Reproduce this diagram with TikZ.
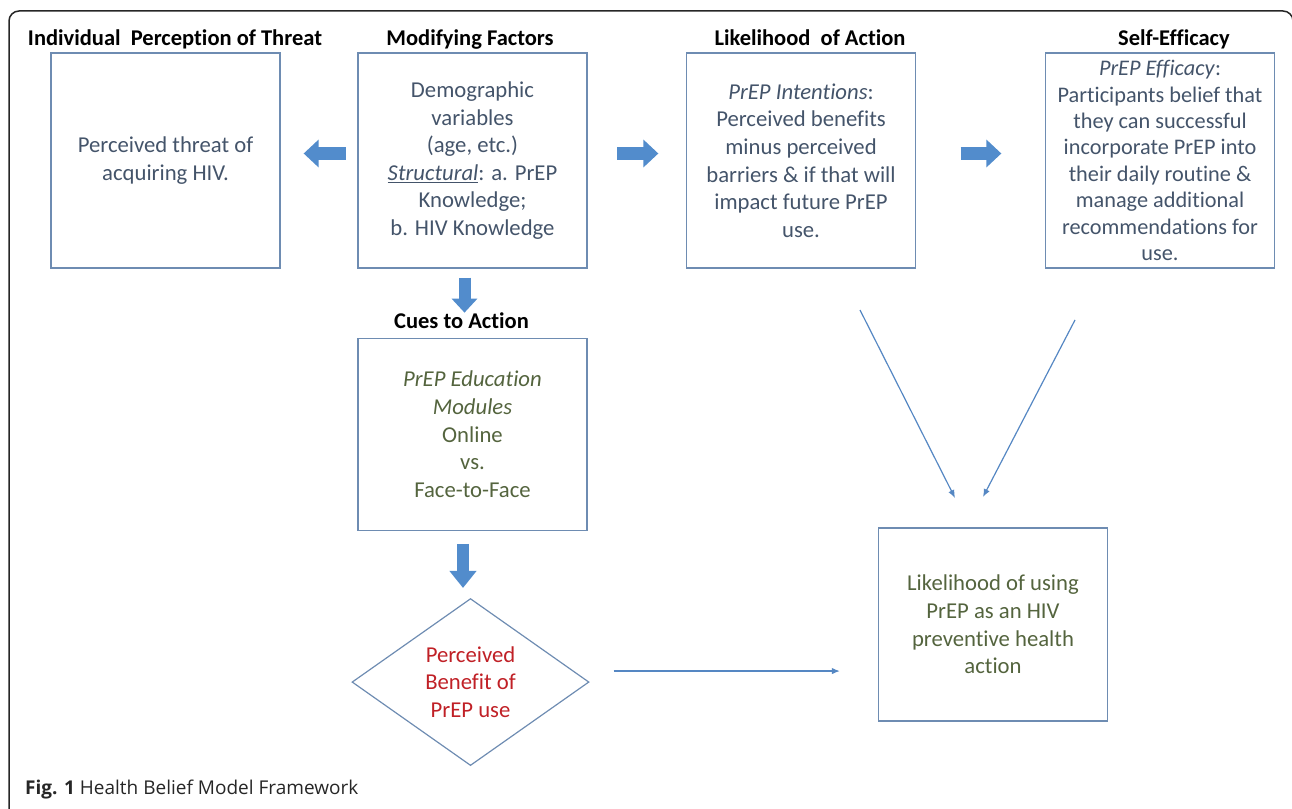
\documentclass[tikz,border=0pt]{standalone}
\usepackage{fontspec}
\setmainfont{Carlito}[Ligatures=NoCommon]
\newfontfamily\captionfont{Open Sans}
\usepackage{tikz}
\usetikzlibrary{arrows.meta,positioning,shapes.geometric}

\definecolor{boxline}{RGB}{110,140,178}
\definecolor{fatblue}{RGB}{82,140,204}
\definecolor{linkblue}{RGB}{85,135,195}
\definecolor{slatetext}{RGB}{68,84,106}
\definecolor{olivetext}{RGB}{84,100,62}
\definecolor{redtext}{RGB}{192,32,38}

\begin{document}
\begin{tikzpicture}[x=1pt, y=-1pt, >={Latex[length=8pt,width=6.5pt]}, node distance=69pt]
	\tikzstyle{every node}=[inner sep=0pt]
	\tikzstyle{box}=[draw=boxline, line width=1.3pt, minimum width=229pt, minimum height=215pt, align=center, text=slatetext, font=\fontsize{22.7}{27.6}\selectfont]
	\tikzstyle{heading}=[font=\fontsize{22.5}{26}\selectfont\bfseries]
	\tikzstyle{fat}=[draw=fatblue, line width=13pt, -{Triangle[length=15pt,width=27pt]}]
	\tikzstyle{link}=[draw=linkblue, line width=1.2pt, ->]
	\useasboundingbox (0,0) rectangle (1292,808);
	% frame
	\draw[line width=1.5pt, rounded corners=10pt, black!85] (9,830) -- (9,11) -- (1293,11) -- (1293,830);
	% boxes
	\node[box] (threat) at (165.5,160.5) {Perceived threat of\\acquiring HIV.};
	\node[box] (modify) at (472.5,160.5) {Demographic\\variables\\(age, etc.)\\\underline{\textit{Structural}}: a. PrEP\\Knowledge;\\b. HIV Knowledge};
	\node[box] (intent) at (801,160.5) {\textit{PrEP Intentions}:\\Perceived benefits\\minus perceived\\barriers \& if that will\\impact future PrEP\\use.};
	\node[box, font=\fontsize{22.3}{26.4}\selectfont] (efficacy) at (1160,160.5) {\textit{PrEP Efficacy}:\\Participants belief that\\they can successful\\incorporate PrEP into\\their daily routine \&\\manage additional\\recommendations for\\use.};
	\node[box, below=of modify, minimum height=192pt, text=olivetext] (cues) {\textit{PrEP Education}\\\textit{Modules}\\Online\\vs.\\Face-to-Face};
	\node[diamond, draw=boxline, line width=1.2pt, minimum width=237pt, minimum height=167pt, below=67pt of cues, xshift=-2pt, align=center, text=redtext, font=\fontsize{22.7}{27.6}\selectfont] (benefit) {Perceived\\Benefit of\\PrEP use};
	\node[box, minimum height=193pt, text=olivetext] (likely) at (993,624.5) {Likelihood of using\\PrEP as an HIV\\preventive health\\action};
	% headings
	\node[heading, above=7pt of threat, anchor=base, xshift=9.5pt] (threathead) {Individual\ \ Perception of Threat};
	\node[heading, above=7pt of modify, anchor=base, xshift=-2.5pt] (modifyhead) {Modifying Factors};
	\node[heading, above=7pt of intent, anchor=base, xshift=9pt] (intenthead) {Likelihood\ \ of Action};
	\node[heading, above=7pt of efficacy, anchor=base, xshift=14pt] (efficacyhead) {Self-Efficacy};
	\node[heading, above=9pt of cues, anchor=base, xshift=-11pt] (cueshead) {Cues to Action};
	% block arrows
	\draw[fat, shorten <=11.5pt, shorten >=23pt] ([yshift=7pt]modify.west) -- ([yshift=7pt]threat.east);
	\draw[fat, shorten <=29.5pt, shorten >=27.5pt] ([yshift=7pt]modify.east) -- ([yshift=7pt]intent.west);
	\draw[fat, shorten <=44.5pt, shorten >=43.5pt] ([yshift=7pt]intent.east) -- ([yshift=7pt]efficacy.west);
	\draw[fat, line width=12pt, -{Triangle[length=14pt,width=25pt]}, shorten <=9pt, shorten >=25pt] ([xshift=-8pt]modify.south) -- ([xshift=-8pt]cues.north);
	\draw[fat, line width=12pt, -{Triangle[length=17pt,width=26pt]}, shorten <=13pt, shorten >=10pt] ([xshift=-9.5pt]cues.south) -- ([xshift=-9.5pt]cues.south |- benefit.north);
	% thin arrows
	\coordinate (fromintent) at (860,310);
	\coordinate (tointent) at (955,498);
	\coordinate (fromeff) at (1075,320);
	\coordinate (toeff) at (983,497);
	\draw[link] (fromintent) -- (tointent);
	\draw[link] (fromeff) -- (toeff);
	\draw[link, shorten <=24pt, shorten >=38pt] ([yshift=11pt]benefit.east) -- ([yshift=11pt]benefit.east -| likely.west);
	% caption
	\node[anchor=base west, font=\captionfont\fontsize{19}{23}\selectfont, text=black!85] (caption) at (25,794) {\textbf{Fig. 1} Health Belief Model Framework};
\end{tikzpicture}
\end{document}
